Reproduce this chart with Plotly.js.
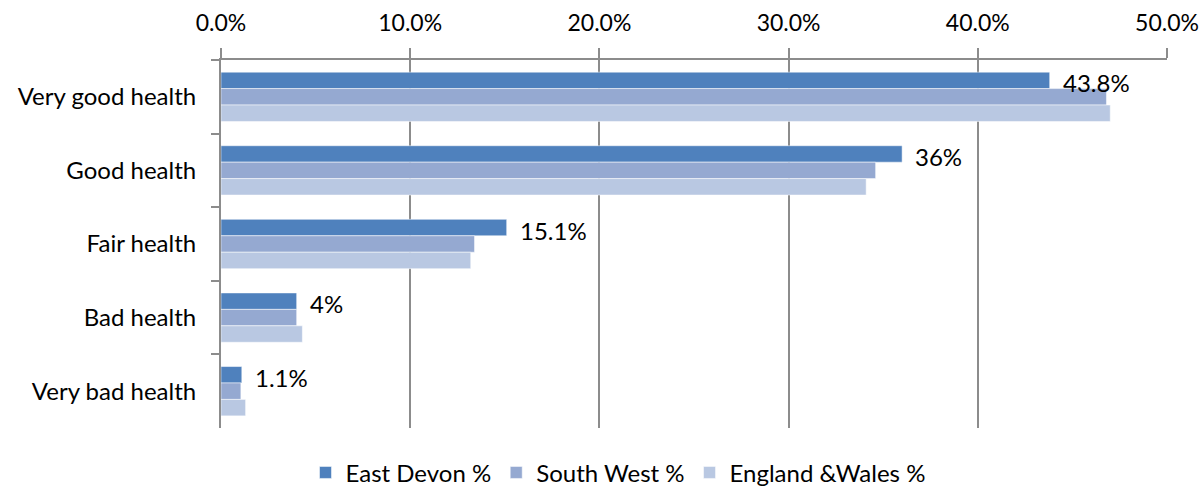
<!DOCTYPE html>
<html>
<head>
<meta charset="utf-8">
<script src="https://cdn.plot.ly/plotly-3.0.1.min.js"></script>
<style>html,body{margin:0;padding:0;background:#fff;}#chart{width:1200px;height:490px;}</style>
</head>
<body>
<div id="chart"></div>
<script>
const categories = ["Very good health", "Good health", "Fair health", "Bad health", "Very bad health"];
const eastDevon = [43.8, 36, 15.1, 4, 1.1];
const southWest = [46.8, 34.6, 13.4, 4.0, 1.05];
const englandWales = [47.0, 34.1, 13.2, 4.3, 1.3];
const seriesNames = ["East Devon %", "South West %", "England &Wales %"];
const colors = ["#4F81BD", "#95A9D1", "#B9C8E2"];

const FONT = "Lato, 'Open Sans', sans-serif";
const allSeries = [eastDevon, southWest, englandWales];
const traces = allSeries.map((vals, i) => ({
  type: "bar",
  orientation: "h",
  name: seriesNames[i],
  x: vals,
  y: categories,
  marker: { color: colors[i], line: { color: "rgba(255,255,255,0.5)", width: 1 } },
  hoverinfo: "x+name"
}));

const annotations = eastDevon.map((v, i) => ({
  x: v, y: categories[i], xref: "x", yref: "y",
  text: v + "%", showarrow: false,
  xanchor: "left", yanchor: "middle",
  xshift: 11, yshift: 14,
  font: { family: FONT, size: 24, color: "#000" }
}));

const layout = {
  width: 1200, height: 490,
  margin: { l: 221, r: 33, t: 60, b: 62 },
  paper_bgcolor: "#fff", plot_bgcolor: "#fff",
  barmode: "group",
  bargap: 0.33, bargroupgap: 0,
  font: { family: FONT, size: 24, color: "#000" },
  xaxis: {
    side: "top", range: [0, 50], dtick: 10, tick0: 0,
    ticksuffix: "%", tickformat: ".1f",
    showgrid: true, gridcolor: "#8C8C8C", gridwidth: 2,
    showline: true, linecolor: "#8C8C8C", linewidth: 2,
    ticks: "outside", ticklen: 10, tickcolor: "#8C8C8C", tickwidth: 2,
    zeroline: false, fixedrange: true,
    ticklabelstandoff: 8, ticklabeloverflow: "allow",
    tickfont: { family: FONT, size: 23, color: "#000" }
  },
  yaxis: {
    type: "category", autorange: "reversed",
    showline: true, linecolor: "#8C8C8C", linewidth: 2,
    ticks: "outside", tickson: "boundaries", ticklen: 8, tickcolor: "#8C8C8C", tickwidth: 2,
    showgrid: false, zeroline: false, fixedrange: true,
    ticklabelstandoff: 18,
    tickfont: { family: FONT, size: 24, color: "#000" }
  },
  legend: {
    orientation: "h", xref: "container", yref: "container",
    x: 0.515, xanchor: "center", y: 0.035, yanchor: "middle",
    font: { family: FONT, size: 24, color: "#000" },
    itemwidth: 30, traceorder: "normal"
  },
  annotations: annotations,
  showlegend: true
};

Plotly.newPlot("chart", traces, layout, { displayModeBar: false, staticPlot: true });
</script>
</body>
</html>
